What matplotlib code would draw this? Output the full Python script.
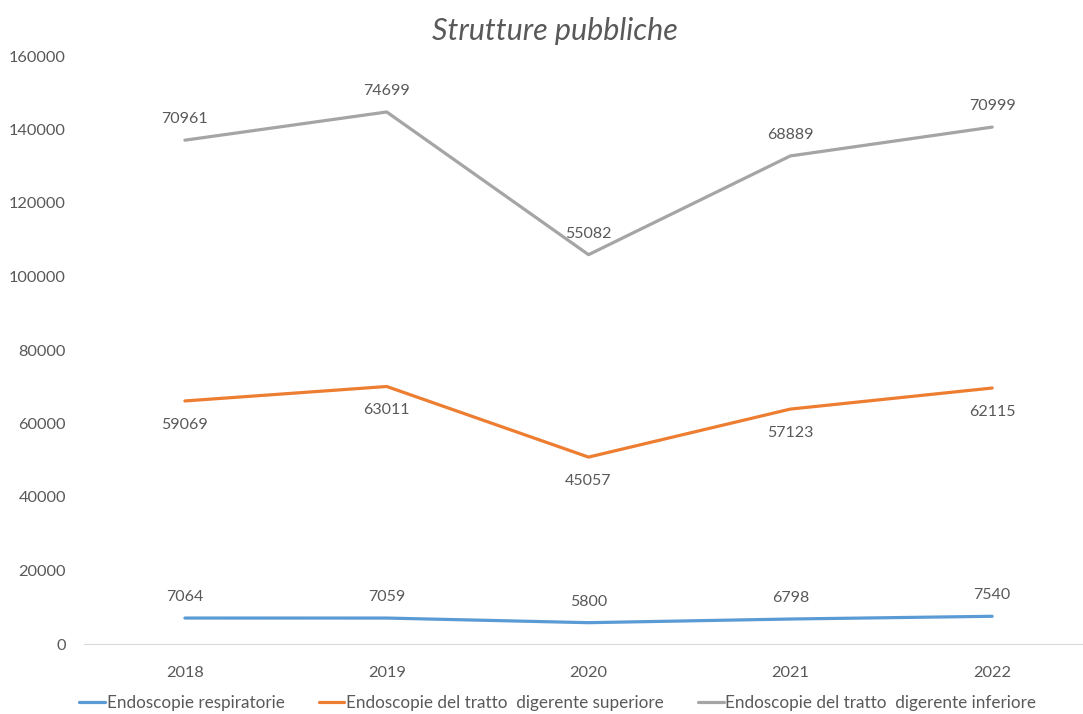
import numpy as np
import matplotlib.pyplot as plt

plt.rcParams['font.family'] = ['Lato', 'DejaVu Sans']

years = ['2018', '2019', '2020', '2021', '2022']
respiratorie = [7064, 7059, 5800, 6798, 7540]
superiore = [59069, 63011, 45057, 57123, 62115]
inferiore = [70961, 74699, 55082, 68889, 70999]

series = [
    ('Endoscopie respiratorie', respiratorie, '#5B9BD5', 15),
    ('Endoscopie del tratto  digerente superiore', superiore, '#ED7D31', -17),
    ('Endoscopie del tratto  digerente inferiore', inferiore, '#A5A5A5', 15),
]
text_col = '#595959'

fig = plt.figure(figsize=(10.83, 7.14), dpi=100)
ax = fig.add_axes([84 / 1083, 70 / 714, 1 - 84 / 1083, (644 - 56) / 714])

x = np.arange(len(years))
base = np.zeros(len(years))
for name, vals, col, off in series:
    top = base + np.array(vals)
    ax.plot(x, top, color=col, lw=2.3, label=name, solid_capstyle='round')
    for xi, yi, v in zip(x, top, vals):
        ax.annotate(str(v), (xi, yi), xytext=(0, off), textcoords='offset points',
                    ha='center', va='center', fontsize=11.5, color=text_col)
    base = top

ax.set_xlim(-0.5, 4.45)
ax.set_ylim(0, 160000)
ax.set_yticks(np.arange(0, 160001, 20000))
ax.set_xticks(x)
ax.set_xticklabels(years)
ax.tick_params(length=0, labelsize=11.8, labelcolor=text_col)
ax.tick_params(axis='x', pad=16)
ax.tick_params(axis='y', pad=13)
for s in ['top', 'right', 'left']:
    ax.spines[s].set_visible(False)
ax.spines['bottom'].set_color('#D9D9D9')

fig.text(0.512, 0.956, 'Strutture pubbliche', ha='center', va='center',
         fontsize=22, style='italic', color=text_col)

fig.legend(loc='center', bbox_to_anchor=(0.515, 0.015), ncol=3, frameon=False,
           fontsize=12.3, labelcolor=text_col, handlelength=1.5, handletextpad=0.1,
           columnspacing=2.0)

fig.savefig('out.png', dpi=100)
